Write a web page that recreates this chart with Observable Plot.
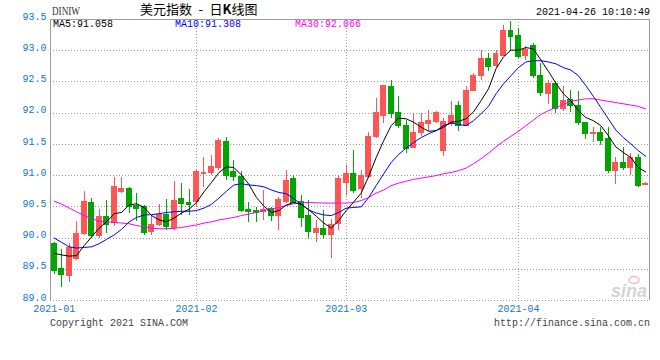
<!DOCTYPE html>
<html><head><meta charset="utf-8">
<script src="https://cdn.jsdelivr.net/npm/d3@7"></script>
<script src="https://cdn.jsdelivr.net/npm/@observablehq/plot@0.6"></script>
<style>body{margin:0;background:#fff} #chart svg{display:block}</style>
</head><body><div id="chart"></div>
<script>
const dates = [
"2021-01-04","2021-01-05","2021-01-06","2021-01-07","2021-01-08","2021-01-11","2021-01-12","2021-01-13","2021-01-14","2021-01-15",
"2021-01-19","2021-01-20","2021-01-21","2021-01-22","2021-01-25","2021-01-26","2021-01-27","2021-01-28","2021-01-29",
"2021-02-01","2021-02-02","2021-02-03","2021-02-04","2021-02-05","2021-02-08","2021-02-09","2021-02-10","2021-02-11","2021-02-12",
"2021-02-15","2021-02-16","2021-02-17","2021-02-18","2021-02-19","2021-02-22","2021-02-23","2021-02-24","2021-02-25","2021-02-26",
"2021-03-01","2021-03-02","2021-03-03","2021-03-04","2021-03-05","2021-03-08","2021-03-09","2021-03-10","2021-03-11","2021-03-12",
"2021-03-15","2021-03-16","2021-03-17","2021-03-18","2021-03-19","2021-03-22","2021-03-23","2021-03-24","2021-03-25","2021-03-26",
"2021-03-29","2021-03-30","2021-03-31",
"2021-04-01","2021-04-02","2021-04-05","2021-04-06","2021-04-07","2021-04-08","2021-04-09","2021-04-12","2021-04-13","2021-04-14",
"2021-04-15","2021-04-16","2021-04-19","2021-04-20","2021-04-21","2021-04-22","2021-04-23","2021-04-26"];
const open = [
89.90,89.51,89.40,89.66,90.07,90.56,90.04,90.34,90.24,90.73,90.78,90.51,90.49,90.09,90.215,90.375,90.16,90.62,90.56,
90.57,91.03,91.04,91.12,91.545,91.05,90.98,90.455,90.44,90.41,90.465,90.36,90.57,90.95,90.58,90.36,90.08,90.14,90.05,90.225,
90.88,91.02,90.79,90.97,91.625,91.96,92.42,92.00,91.80,91.44,91.69,91.82,91.865,91.39,91.83,92.11,91.80,92.36,92.60,92.87,92.76,92.92,93.31,
93.23,92.91,93.07,92.60,92.30,92.46,92.07,92.21,92.12,91.85,91.67,91.69,91.59,91.08,91.20,91.12,91.29,90.85];
const high = [
89.93,89.82,89.91,90.26,90.74,90.63,90.46,90.60,90.97,90.97,90.81,90.72,90.52,90.36,90.54,90.61,90.90,90.87,90.78,
91.08,91.29,91.32,91.60,91.61,91.24,91.07,90.57,90.49,90.76,90.49,90.65,91.08,91.00,90.68,90.60,90.28,90.44,90.29,91.00,
91.16,91.40,91.08,91.69,92.23,92.44,92.52,92.27,91.89,92.00,92.00,92.04,92.02,91.91,92.18,92.18,92.43,92.63,93.00,92.95,93.00,93.40,93.47,
93.35,93.06,93.11,92.80,92.52,92.50,92.43,92.36,92.35,91.85,91.77,91.77,91.77,91.29,91.45,91.35,91.34,90.89];
const low = [
89.41,89.21,89.29,89.64,90.04,90.00,90.00,90.08,90.18,90.72,90.40,90.27,90.04,90.04,90.18,90.12,90.12,90.36,90.36,
90.49,90.81,91.00,91.08,90.92,90.91,90.41,90.25,90.25,90.28,90.27,90.12,90.56,90.55,90.17,90.00,89.93,89.99,89.68,90.12,
90.68,90.72,90.64,90.95,91.59,91.83,91.92,91.76,91.36,91.43,91.625,91.71,91.84,91.31,91.79,91.71,91.79,92.34,92.52,92.66,92.73,92.92,93.01,
92.87,92.84,92.55,92.27,92.14,92.00,92.03,92.01,91.80,91.58,91.53,91.48,91.04,90.86,91.08,91.00,90.81,90.85];
const close = [
89.47,89.41,89.84,90.07,90.57,90.04,90.33,90.21,90.81,90.78,90.49,90.46,90.08,90.215,90.375,90.18,90.60,90.55,90.53,
91.05,91.04,91.13,91.56,91.00,90.97,90.44,90.42,90.40,90.455,90.36,90.615,90.92,90.56,90.32,90.09,90.14,90.05,90.21,90.95,
91.03,90.76,91.00,91.625,92.01,92.43,91.99,91.79,91.43,91.68,91.84,91.88,92.00,91.855,91.96,91.79,92.36,92.59,92.87,92.74,92.95,93.31,93.22,
92.90,93.01,92.59,92.32,92.46,92.07,92.20,92.12,91.84,91.66,91.68,91.55,91.08,91.20,91.12,91.29,90.83,90.87];
const ma5 = [
89.755,89.73,89.71,89.72,89.88,90.02,90.16,90.26,90.39,90.41,90.53,90.55,90.49,90.36,90.29,90.26,90.32,90.40,90.46,
90.57,90.74,90.89,91.05,91.14,91.13,91.01,90.86,90.65,90.51,90.41,90.44,90.53,90.57,90.54,90.45,90.35,90.24,90.16,90.28,
90.44,90.58,90.72,90.99,91.29,91.56,91.80,91.92,91.91,91.855,91.775,91.71,91.72,91.775,91.855,91.87,91.91,92.02,92.20,92.39,92.71,92.90,93.01,
93.01,93.05,93.03,92.85,92.67,92.48,92.31,92.20,92.04,91.93,91.88,91.80,91.64,91.46,91.37,91.29,91.13,91.058];
const ma10 = [
90.00,89.93,89.86,89.84,89.85,89.86,89.91,89.98,90.05,90.14,90.26,90.33,90.37,90.375,90.39,90.41,90.42,90.43,90.43,
90.44,90.48,90.54,90.64,90.75,90.85,90.87,90.85,90.84,90.82,90.77,90.73,90.71,90.63,90.54,90.45,90.40,90.37,90.36,90.41,
90.48,90.49,90.50,90.65,90.84,91.03,91.21,91.34,91.44,91.53,91.61,91.67,91.72,91.80,91.84,91.82,91.80,91.88,91.99,92.11,92.31,92.47,92.60,
92.73,92.82,92.84,92.84,92.82,92.79,92.73,92.69,92.60,92.44,92.27,92.09,91.91,91.73,91.61,91.51,91.40,91.308];
const ma30 = [
90.59,90.54,90.48,90.42,90.36,90.31,90.27,90.26,90.25,90.24,90.23,90.20,90.18,90.16,90.15,90.15,90.155,90.17,90.19,
90.21,90.24,90.26,90.29,90.31,90.33,90.36,90.385,90.41,90.44,90.465,90.49,90.52,90.55,90.565,90.57,90.565,90.56,90.56,90.56,
90.56,90.57,90.60,90.65,90.72,90.77,90.84,90.88,90.91,90.94,90.96,90.98,91.00,91.03,91.05,91.08,91.12,91.19,91.27,91.36,91.46,91.55,91.63,
91.71,91.80,91.89,91.98,92.04,92.09,92.14,92.19,92.21,92.23,92.23,92.21,92.19,92.17,92.15,92.13,92.11,92.066];
const yTicks = [89.0, 89.5, 90.0, 90.5, 91.0, 91.5, 92.0, 92.5, 93.0, 93.5];
const monthLabels = ["2021-01", "2021-02", "2021-03", "2021-04"];

const rows = dates.map((d, i) => ({i, date: d, open: open[i], high: high[i], low: low[i], close: close[i],
  ma5: ma5[i], ma10: ma10[i], ma30: ma30[i], up: close[i] >= open[i]}));
const monthIdx = monthLabels.map(m => dates.findIndex(d => d.startsWith(m)));
const RED = "#ff5555", GREEN = "#00a600", GRID = "#9a9a9a", LABEL = "#1177cc";
const N = dates.length;
const mono = "Liberation Mono, DejaVu Sans Mono, monospace";

const plot = Plot.plot({
  width: 660, height: 360,
  marginLeft: 50, marginRight: 11, marginTop: 19, marginBottom: 60,
  style: {fontFamily: mono, fontSize: "10px", background: "#fff", overflow: "visible"},
  x: {domain: [-0.5, N - 0.5], label: null},
  y: {domain: [yTicks[0], yTicks[yTicks.length - 1]], label: null},
  marks: [
    Plot.gridY({ticks: yTicks.slice(0, -1), stroke: GRID, strokeOpacity: 1, strokeDasharray: "1,2", shapeRendering: "crispEdges"}),
    Plot.gridX({ticks: monthIdx.slice(1), stroke: GRID, strokeOpacity: 1, strokeDasharray: "1,2", shapeRendering: "crispEdges"}),
    Plot.ruleY([yTicks[yTicks.length - 1]], {stroke: GRID, shapeRendering: "crispEdges"}),
    Plot.ruleX([-0.5, N - 0.5], {y1: yTicks[0], y2: yTicks[yTicks.length - 1], stroke: GRID, shapeRendering: "crispEdges"}),
    Plot.ruleX(rows, {filter: d => d.up, x: "i", y1: "low", y2: "high", stroke: RED, shapeRendering: "crispEdges"}),
    Plot.ruleX(rows, {filter: d => !d.up, x: "i", y1: "low", y2: "high", stroke: GREEN, shapeRendering: "crispEdges"}),
    Plot.rect(rows, {filter: d => d.up, x1: d => d.i - 0.33, x2: d => d.i + 0.33, y1: "open", y2: "close", fill: RED, stroke: RED, shapeRendering: "crispEdges"}),
    Plot.rect(rows, {filter: d => !d.up, x1: d => d.i - 0.33, x2: d => d.i + 0.33, y1: "open", y2: "close", fill: GREEN, stroke: GREEN, shapeRendering: "crispEdges"}),
    Plot.line(rows, {x: "i", y: "ma30", stroke: "#ff00ff", strokeWidth: 1}),
    Plot.line(rows, {x: "i", y: "ma10", stroke: "#0000ff", strokeWidth: 1}),
    Plot.line(rows, {x: "i", y: "ma5", stroke: "#000000", strokeWidth: 1}),
    Plot.axisY({ticks: yTicks, tickSize: 0, tickPadding: 4, dy: -3, fill: LABEL, tickFormat: d => d.toFixed(1)}),
    Plot.axisX({ticks: monthIdx, tickSize: 0, tickPadding: 4, fill: LABEL, tickFormat: i => dates[i].slice(0, 7)})
  ]
});
document.getElementById("chart").appendChild(plot);

const svg = d3.select(plot);
function txt(x, y, s, o = {}) {
  const t = svg.append("text").attr("x", x).attr("y", y)
    .style("font-family", o.font || mono).style("font-size", (o.size || 10) + "px")
    .attr("fill", o.fill || "#000").attr("text-anchor", o.anchor || "start").text(s);
  if (o.italic) t.style("font-style", "italic");
  if (o.weight) t.style("font-weight", o.weight);
  if (o.len) t.attr("textLength", o.len).attr("lengthAdjust", "spacingAndGlyphs");
  return t;
}
// watermark
svg.append("ellipse").attr("cx", 634).attr("cy", 280).attr("rx", 5).attr("ry", 3.5).attr("fill", "none").attr("stroke", "#f4b8b8").attr("stroke-width", 1.5);
txt(647, 297, "sina", {font: "Liberation Sans, Arial, sans-serif", size: 18, italic: true, weight: "bold", fill: "#d4d4d4", anchor: "end"});
// header
txt(52, 15, "DINIW", {font: "Liberation Serif, DejaVu Serif, serif", size: 13, fill: "#333", len: 28});
const title = svg.append("text").attr("x", 140).attr("y", 14).attr("text-anchor", "start")
  .style("font-family", "Noto Sans CJK SC, sans-serif").style("font-size", "13px").attr("fill", "#000");
title.append("tspan").text("美元指数\u2002-\u2002日");
title.append("tspan").style("font-weight", "bold").text("K");
title.append("tspan").text("线图");
txt(650, 15, "2021-04-26 10:10:49", {anchor: "end"});
txt(53, 27, `MA5:${ma5[N - 1].toFixed(3)}`, {fill: "#000"});
txt(175, 27, `MA10:${ma10[N - 1].toFixed(3)}`, {fill: "#0000ff"});
txt(295, 27, `MA30:${ma30[N - 1].toFixed(3)}`, {fill: "#ff00ff"});
// footer
txt(50, 326, "Copyright 2021 SINA.COM", {fill: "#444"});
txt(650, 326, "http://finance.sina.com.cn", {fill: "#444", anchor: "end"});
</script>
</body></html>
